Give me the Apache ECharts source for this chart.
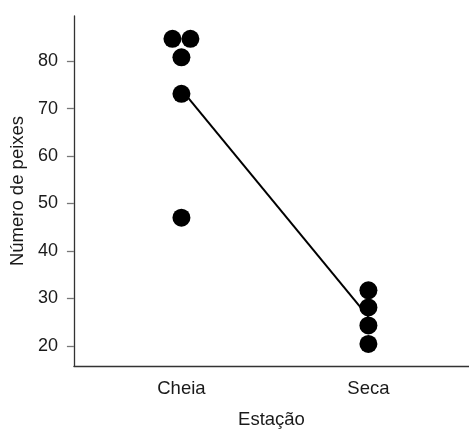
<!DOCTYPE html>
<html>
<head>
<meta charset="utf-8">
<script src="https://cdn.jsdelivr.net/npm/echarts@6/dist/echarts.min.js"></script>
<style>
html,body{margin:0;padding:0;background:#fff;}
#chart{width:469px;height:434px;}
</style>
</head>
<body>
<div id="chart"></div>
<script>
var categories = ['Cheia', 'Seca'];
var yTicks = [20, 30, 40, 50, 60, 70, 80];
// points: [x position (category index + 1, with small horizontal jitter), value]
var cheiaX = [0.952, 1.048, 1.0, 1.0, 1.0];
var cheiaValues = [84.7, 84.7, 80.8, 73.1, 47.0];
var secaX = [2.0, 2.0, 2.0, 2.0];
var secaValues = [31.7, 28.1, 24.3, 20.4];
var meanX = [1, 2];
var meanValues = [74.0, 26.1];

var pts = [];
cheiaX.forEach(function (x, i) { pts.push([x, cheiaValues[i]]); });
secaX.forEach(function (x, i) { pts.push([x, secaValues[i]]); });
var meanLine = meanX.map(function (x, i) { return [x, meanValues[i]]; });

var font = 'Liberation Sans, Arial, sans-serif';
var chart = echarts.init(document.getElementById('chart'), null, {renderer: 'canvas'});
chart.setOption({
  animation: false,
  backgroundColor: '#ffffff',
  grid: {left: 73, top: 16, right: 0, bottom: 61, containLabel: false},
  xAxis: {
    type: 'value',
    min: 0.425,
    max: 2.538,
    name: 'Estação',
    nameLocation: 'middle',
    nameGap: 44,
    nameTextStyle: {fontFamily: font, fontSize: 18.5, color: '#1a1a1a'},
    axisLine: {show: true, onZero: false, lineStyle: {color: '#333', width: 1.3}},
    axisTick: {show: false},
    splitLine: {show: false},
    axisLabel: {
      customValues: [1, 2],
      margin: 13,
      fontFamily: font, fontSize: 18.5, color: '#1a1a1a',
      formatter: function (v) { return categories[Math.round(v) - 1] || ''; }
    }
  },
  yAxis: {
    type: 'value',
    min: 15.75,
    max: 89.5,
    name: 'Número de peixes',
    nameLocation: 'middle',
    nameGap: 44,
    nameTextStyle: {fontFamily: font, fontSize: 18.5, color: '#1a1a1a'},
    axisLine: {show: true, onZero: false, lineStyle: {color: '#333', width: 1.3}},
    axisTick: {show: true, customValues: yTicks, length: 7, lineStyle: {color: '#777', width: 1.3}},
    splitLine: {show: false},
    axisLabel: {
      customValues: yTicks,
      margin: 16,
      fontFamily: font, fontSize: 18, color: '#1a1a1a'
    }
  },
  series: [
    {
      type: 'line',
      data: meanLine,
      symbol: 'none',
      lineStyle: {color: '#000', width: 2},
      z: 2
    },
    {
      type: 'scatter',
      data: pts,
      symbol: 'circle',
      symbolSize: 18,
      itemStyle: {color: '#000', opacity: 1},
      z: 3
    }
  ]
});
</script>
</body>
</html>
